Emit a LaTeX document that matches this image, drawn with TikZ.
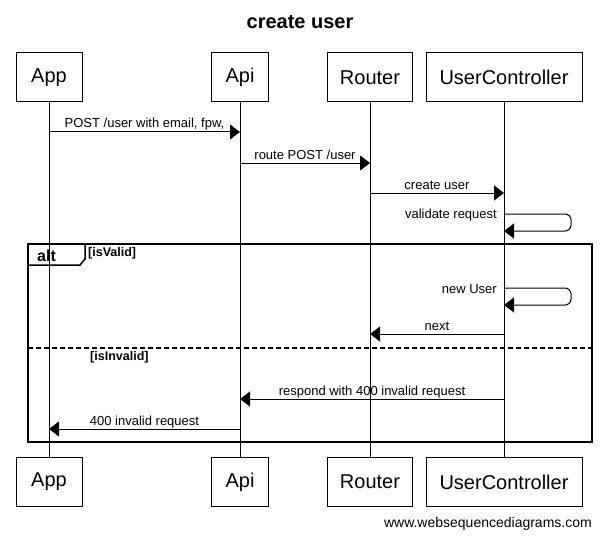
\documentclass[tikz,border=0pt]{standalone}
\usepackage{fontspec}
\setmainfont{Liberation Sans}
\usetikzlibrary{arrows.meta}
\begin{document}
\begin{tikzpicture}[x=1pt,y=-1pt,
  part/.style={draw,line width=1pt,minimum height=49pt,inner sep=0pt,font=\fontsize{20}{22}\selectfont},
  life/.style={line width=1pt},
  msg/.style={line width=1pt,-{Triangle[length=10pt,width=15pt]}},
  lbl/.style={font=\fontsize{13}{14}\selectfont,anchor=base,inner sep=0pt},
  slbl/.style={font=\fontsize{13}{14}\selectfont,anchor=east,inner sep=0pt},
  guard/.style={font=\bfseries\fontsize{12.5}{14}\selectfont,anchor=west,inner sep=0pt},
  frame/.style={line width=2pt}]
\useasboundingbox (0,0) rectangle (601,540);
\node[font=\bfseries\fontsize{20}{22}\selectfont] (title) at (300,22) {create user};
% participants
\node[part,minimum width=66pt] (appT) at (49,77.5) {App};
\node[part,minimum width=57pt] (apiT) at (240,77.5) {Api};
\node[part,minimum width=85pt] (rtT) at (370,77.5) {Router};
\node[part,minimum width=156pt] (ucT) at (504,77.5) {UserController};
\node[part,minimum width=66pt] (appB) at (49,482) {App};
\node[part,minimum width=57pt] (apiB) at (240,482) {Api};
\node[part,minimum width=85pt] (rtB) at (370,482) {Router};
\node[part,minimum width=156pt] (ucB) at (504,482) {UserController};
\draw[life] (appT) -- (appB);
\draw[life] (apiT) -- (apiB);
\draw[life] (rtT) -- (rtB);
\draw[life] (ucT) -- (ucB);
% coordinates on lifelines
\coordinate (a1) at (49,132); \coordinate (p1) at (240,132);
\coordinate (p2) at (240,163); \coordinate (r2) at (370,163);
\coordinate (r3) at (370,193); \coordinate (u3) at (504,193);
\coordinate (u4) at (504,214); \coordinate (u4b) at (504,231);
\coordinate (u5) at (504,288); \coordinate (u5b) at (504,305);
\coordinate (u6) at (504,334); \coordinate (r6) at (370,334);
\coordinate (u7) at (504,399); \coordinate (p7) at (240,399);
\coordinate (p8) at (240,429); \coordinate (a8) at (49,429);
% messages
\draw[msg] (a1) -- (p1);
\node[lbl] (l1) at (144.5,128) {POST /user with email, fpw,};
\draw[msg] (p2) -- (r2);
\node[lbl] (l2) at (305,159) {route POST /user};
\draw[msg] (r3) -- (u3);
\node[lbl] (l3) at (437,189) {create user};
\draw[msg,rounded corners=6pt] (u4) -- (571,214) -- (571,231) -- (u4b);
\node[slbl] (l4) at (497,215) {validate request};
% alt frame
\draw[frame] (28,244) rectangle (592,442);
\draw[line width=1.5pt] (28,265) -- (80,265) -- (85,259) -- (85,244);
\node[font=\bfseries\fontsize{16}{18}\selectfont,anchor=west,inner sep=0pt] (alt) at (37,255.5) {alt};
\node[guard] (g1) at (88,253) {[isValid]};
\draw[msg,rounded corners=6pt] (u5) -- (571,288) -- (571,305) -- (u5b);
\node[slbl] (l5) at (497,289) {new User};
\draw[msg] (u6) -- (r6);
\node[lbl] (l6) at (437,330) {next};
\draw[frame,dash pattern=on 5pt off 3pt] (28,348) -- (592,348);
\node[guard] (g2) at (90,357) {[isInvalid]};
\draw[msg] (u7) -- (p7);
\node[lbl] (l7) at (372,395) {respond with 400 invalid request};
\draw[msg] (p8) -- (a8);
\node[lbl] (l8) at (144.5,425) {400 invalid request};
\node[font=\fontsize{14}{16}\selectfont,anchor=east,inner sep=0pt] (wm) at (592,524) {www.websequencediagrams.com};
\end{tikzpicture}
\end{document}
